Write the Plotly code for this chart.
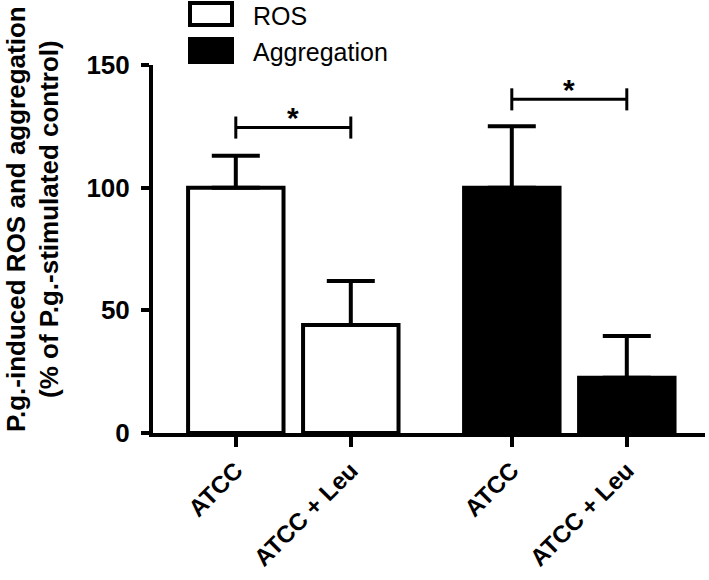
import plotly.graph_objects as go

# ---- data ----
categories = ["ATCC", "ATCC + Leu"]
ros_mean = [100, 44]
ros_sem = [13, 18]
agg_mean = [100, 22.5]
agg_sem = [25, 17]
bracket_y = [124.5, 136]
series_names = ["ROS", "Aggregation"]
y_ticks = [0, 50, 100, 150]

FONT = "Arial, Liberation Sans, sans-serif"
W, H = 709, 580
# plot area in pixels: x 153..705, y 65..433
PL, PR, PT, PB = 153, 705, 65, 433
L, T = PL, PT
R, B = W - PR, H - PB
PW, PH = PR - PL, PB - PT

def px(x):
    return (x - PL) / PW

def py(y):
    return (PB - y) / PH

GROUP_GAP = 2.4
ros_x = [i for i in range(len(categories))]
agg_x = [GROUP_GAP + i for i in range(len(categories))]

fig = go.Figure()
fig.add_trace(go.Bar(
    x=ros_x, y=ros_mean, width=0.83, name=series_names[0],
    marker=dict(color="white", line=dict(color="black", width=4)),
    error_y=dict(type="data", symmetric=False, array=ros_sem, arrayminus=[0] * len(ros_sem),
                 thickness=4, width=24, color="black"),
    showlegend=False, hoverinfo="skip",
))
fig.add_trace(go.Bar(
    x=agg_x, y=agg_mean, width=0.83, name=series_names[1],
    marker=dict(color="black", line=dict(color="black", width=4)),
    error_y=dict(type="data", symmetric=False, array=agg_sem, arrayminus=[0] * len(agg_sem),
                 thickness=4, width=24, color="black"),
    showlegend=False, hoverinfo="skip",
))

# significance brackets
shapes = []
annotations = []
for xs, yb in zip([ros_x, agg_x], bracket_y):
    x0, x1 = xs[0], xs[1]
    shapes.append(dict(type="line", xref="x", yref="y", x0=x0, x1=x1, y0=yb, y1=yb,
                       line=dict(color="black", width=3)))
    for xe in (x0, x1):
        shapes.append(dict(type="line", xref="x", yref="y", x0=xe, x1=xe, y0=yb - 4.5, y1=yb + 4.5,
                           line=dict(color="black", width=3)))
    annotations.append(dict(x=(x0 + x1) / 2, y=yb + 4, xref="x", yref="y", text="<b>*</b>",
                            showarrow=False, yanchor="middle",
                            font=dict(family=FONT, size=30, color="black")))

# legend (drawn manually)
legend_rows = [(3, 25, "white"), (39, 62, "black")]
legend_text_y = [16, 52]
for (y0, y1, col), name, ty in zip(legend_rows, series_names, legend_text_y):
    shapes.append(dict(type="rect", xref="paper", yref="paper",
                       x0=px(190), x1=px(232), y0=py(y1), y1=py(y0),
                       fillcolor=col, line=dict(color="black", width=4)))
    annotations.append(dict(x=px(252), y=py(ty), xref="paper", yref="paper",
                            text=name, showarrow=False, xanchor="left", yanchor="middle",
                            borderpad=0,
                            font=dict(family=FONT, size=25, color="black")))

# y-axis title (two lines)
annotations.append(dict(x=px(16), y=py(219), xref="paper", yref="paper", textangle=-90,
                        text="<b>P.g.-induced ROS and aggregation</b>", showarrow=False,
                        xanchor="center", yanchor="middle", borderpad=0,
                        font=dict(family=FONT, size=26, color="black")))
annotations.append(dict(x=px(49), y=py(219), xref="paper", yref="paper", textangle=-90,
                        text="<b>(% of P.g.-stimulated control)</b>", showarrow=False,
                        xanchor="center", yanchor="middle", borderpad=0,
                        font=dict(family=FONT, size=26, color="black")))

fig.update_layout(
    width=W, height=H,
    margin=dict(l=L, r=R, t=T, b=B, autoexpand=False),
    paper_bgcolor="white", plot_bgcolor="white",
    barmode="overlay",
    shapes=shapes, annotations=annotations,
    font=dict(family=FONT, color="black"),
)
fig.update_xaxes(
    range=[-0.72, 4.08],
    tickvals=ros_x + agg_x,
    ticktext=["<b>%s</b>" % c for c in categories + categories],
    tickangle=-45,
    ticks="outside", ticklen=10, tickwidth=4, tickcolor="black",
    showline=True, linewidth=4, linecolor="black",
    showgrid=False, zeroline=False, automargin=False,
    tickfont=dict(family=FONT, size=24, color="black"),
)
fig.update_yaxes(
    range=[0, 150],
    tickvals=y_ticks,
    ticktext=["<b>%d</b>" % v for v in y_ticks],
    ticks="outside", ticklen=8, tickwidth=4, tickcolor="black",
    showline=True, linewidth=4, linecolor="black",
    showgrid=False, zeroline=False, automargin=False,
    ticklabelstandoff=6,
    tickfont=dict(family=FONT, size=26, color="black"),
)

# remove the default page margin so the figure fills the window from its corner
fig.write_html("out.html", config={"displayModeBar": False},
               post_script="document.body.style.margin='0';")
